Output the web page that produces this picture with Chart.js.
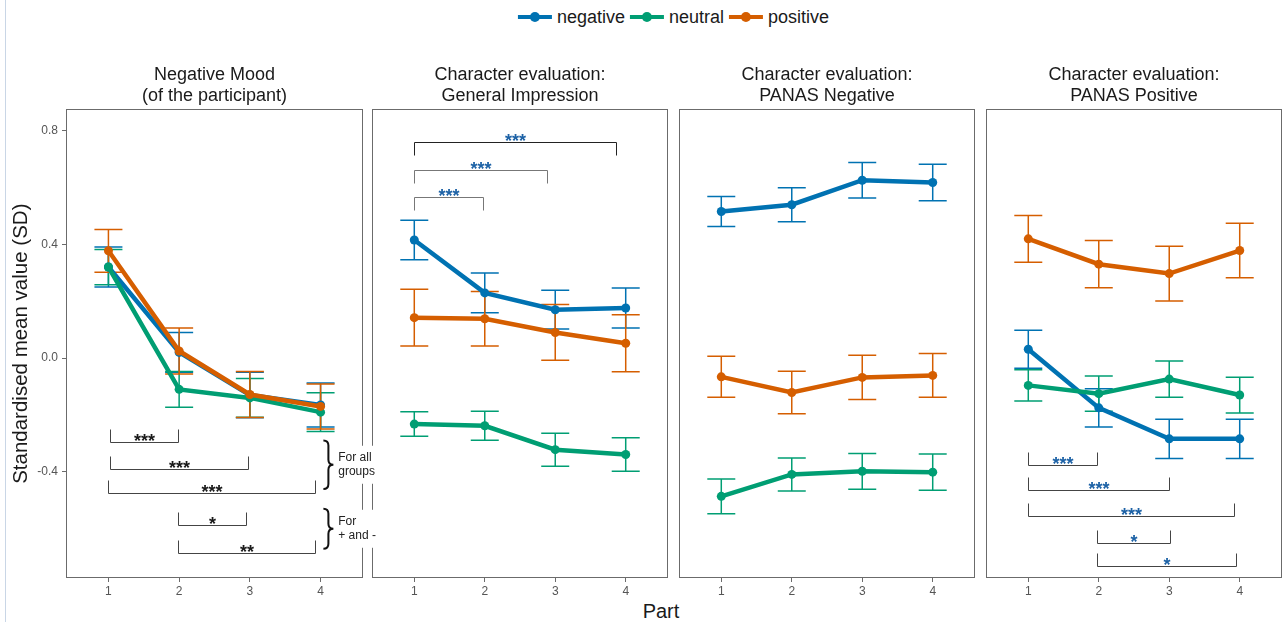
<!DOCTYPE html>
<html>
<head>
<meta charset="UTF-8" />
<title>Mood and character evaluation by part</title>
<script src="https://cdn.jsdelivr.net/npm/chart.js"></script>
<style>
  body { margin: 0; background: #fff; font-family: "Liberation Sans", Arial, sans-serif; }
  #page { position: relative; width: 1288px; height: 622px; overflow: hidden; }
  #page canvas { position: absolute; }
  #edge { position: absolute; left: 5px; top: 0; width: 1px; height: 622px; background: #c9d6e6; }
  #legend { position: absolute; left: 676px; top: 6px; transform: translateX(-50%); white-space: nowrap;
            font-size: 18px; color: #1a1a1a; line-height: 22px; }
  #legend .item { display: inline-block; margin-right: 5px; }
  #legend .swatch { display: inline-block; position: relative; width: 34px; height: 4px; vertical-align: middle;
                    margin-right: 5px; top: -1px; }
  #legend .swatch i { position: absolute; left: 12px; top: -3px; width: 10px; height: 10px; border-radius: 50%; background: inherit; }
  #xtitle { position: absolute; left: 661px; top: 600px; transform: translateX(-50%); font-size: 20px; color: #1a1a1a; }
</style>
</head>
<body>
<div id="page">
  <div id="edge"></div>
  <div id="legend"></div>
  <canvas id="panel1" width="382" height="535" style="left:0;top:65px;z-index:2"></canvas>
  <canvas id="panel2" width="296" height="535" style="left:372px;top:65px"></canvas>
  <canvas id="panel3" width="296" height="535" style="left:679px;top:65px"></canvas>
  <canvas id="panel4" width="296" height="535" style="left:986px;top:65px"></canvas>
  <div id="xtitle">Part</div>
</div>

<script>
  // --- data ---
  const parts = [1, 2, 3, 4];
  const partLabels = ['1', '2', '3', '4'];
  const groups = ['negative', 'neutral', 'positive'];
  const groupColors = ['#0072B2', '#009E73', '#D55E00'];
  const yMin = -0.773;
  const yMax = 0.874;
  const yTicks = [-0.4, 0, 0.4, 0.8];
  const yTickLabels = ['-0.4', '0.0', '0.4', '0.8'];

  const panelTitles = [
    ['Negative Mood', '(of the participant)'],
    ['Character evaluation:', 'General Impression'],
    ['Character evaluation:', 'PANAS Negative'],
    ['Character evaluation:', 'PANAS Positive']
  ];

  // rows: negative, neutral, positive
  const moodMean = [
    [0.32, 0.02, -0.13, -0.165],
    [0.32, -0.11, -0.14, -0.19],
    [0.377, 0.025, -0.128, -0.17]
  ];
  const moodSE = [
    [0.07, 0.07, 0.08, 0.077],
    [0.062, 0.063, 0.068, 0.068],
    [0.075, 0.081, 0.081, 0.079]
  ];

  const impressionMean = [
    [0.415, 0.229, 0.17, 0.176],
    [-0.232, -0.238, -0.322, -0.339],
    [0.142, 0.138, 0.09, 0.052]
  ];
  const impressionSE = [
    [0.069, 0.07, 0.068, 0.07],
    [0.043, 0.051, 0.058, 0.059],
    [0.1, 0.096, 0.098, 0.1]
  ];

  const panasNegMean = [
    [0.515, 0.539, 0.625, 0.617],
    [-0.486, -0.409, -0.398, -0.401],
    [-0.066, -0.121, -0.068, -0.061]
  ];
  const panasNegSE = [
    [0.053, 0.06, 0.062, 0.064],
    [0.061, 0.058, 0.063, 0.064],
    [0.072, 0.075, 0.078, 0.077]
  ];

  const panasPosMean = [
    [0.031, -0.175, -0.284, -0.284],
    [-0.096, -0.125, -0.074, -0.13],
    [0.419, 0.33, 0.297, 0.378]
  ];
  const panasPosSE = [
    [0.067, 0.067, 0.069, 0.069],
    [0.055, 0.062, 0.064, 0.063],
    [0.082, 0.083, 0.096, 0.096]
  ];

  // significance brackets: [from part, to part, level, stars]
  const moodBrackets = [
    [1.02, 1.99, -0.296, '***'],
    [1.02, 2.97, -0.39, '***'],
    [1.0, 3.92, -0.475, '***'],
    [1.99, 2.95, -0.587, '*'],
    [1.99, 3.92, -0.686, '**']
  ];
  const impressionBrackets = [
    [1.0, 1.97, 0.567, '***'],
    [1.0, 2.88, 0.661, '***'],
    [1.0, 3.86, 0.76, '***']
  ];
  const panasPosBrackets = [
    [1.0, 1.98, -0.377, '***'],
    [1.0, 3.0, -0.464, '***'],
    [1.0, 3.92, -0.554, '***'],
    [1.98, 3.01, -0.651, '*'],
    [1.98, 3.95, -0.731, '*']
  ];

  // brace notes next to the mood brackets: [top level, bottom level, text lines]
  const moodNotes = [
    [-0.29, -0.46, ['For all', 'groups']],
    [-0.53, -0.67, ['For', '+ and -']]
  ];

  Chart.defaults.font.family = '"Liberation Sans", Arial, sans-serif';

  // legend
  const legendEl = document.getElementById('legend');
  groups.forEach((g, i) => {
    const item = document.createElement('span');
    item.className = 'item';
    item.innerHTML = '<span class="swatch" style="background:' + groupColors[i] + '"><i></i></span>' + g;
    legendEl.appendChild(item);
  });

  function drawBrace(ctx, x0, y0, y1) {
    const xm = x0 + 5, tip = x0 + 10, mid = (y0 + y1) / 2, r = 5;
    ctx.beginPath();
    ctx.moveTo(x0, y0);
    ctx.quadraticCurveTo(xm, y0, xm, y0 + r);
    ctx.lineTo(xm, mid - r);
    ctx.quadraticCurveTo(xm, mid, tip, mid);
    ctx.quadraticCurveTo(xm, mid, xm, mid + r);
    ctx.lineTo(xm, y1 - r);
    ctx.quadraticCurveTo(xm, y1, x0, y1);
    ctx.stroke();
  }

  function extrasPlugin(cfg) {
    return {
      id: 'facetExtras',
      beforeDatasetsDraw(chart) {
        const { ctx, scales: { x, y } } = chart;
        ctx.save();
        ctx.lineWidth = 1.5;
        cfg.means.forEach((row, i) => {
          ctx.strokeStyle = groupColors[i];
          row.forEach((m, j) => {
            const px = x.getPixelForValue(parts[j]);
            const top = y.getPixelForValue(m + cfg.se[i][j]);
            const bot = y.getPixelForValue(m - cfg.se[i][j]);
            ctx.beginPath();
            ctx.moveTo(px, top); ctx.lineTo(px, bot);
            ctx.moveTo(px - 14, top); ctx.lineTo(px + 14, top);
            ctx.moveTo(px - 14, bot); ctx.lineTo(px + 14, bot);
            ctx.stroke();
          });
        });
        ctx.restore();
      },
      afterDatasetsDraw(chart) {
        const { ctx, chartArea: a, scales: { x, y } } = chart;
        ctx.save();
        // panel border
        ctx.strokeStyle = '#6b6b6b';
        ctx.lineWidth = 1;
        ctx.strokeRect(Math.round(a.left) + 0.5, Math.round(a.top) + 0.5,
                       Math.round(a.width) - 1, Math.round(a.height) - 1);

        // brackets
        (cfg.brackets || []).forEach((b, n) => {
          const [from, to, level, stars] = b;
          const x1 = Math.round(x.getPixelForValue(from)) + 0.5;
          const x2 = Math.round(x.getPixelForValue(to)) + 0.5;
          const py = Math.round(y.getPixelForValue(level)) + 0.5;
          const tip = py + cfg.tickDir * 13;
          ctx.strokeStyle = cfg.lineColors ? cfg.lineColors[n] : '#444';
          ctx.lineWidth = 1;
          ctx.beginPath();
          ctx.moveTo(x1, tip); ctx.lineTo(x1, py); ctx.lineTo(x2, py); ctx.lineTo(x2, tip);
          ctx.stroke();
          ctx.fillStyle = cfg.starColor;
          ctx.font = 'bold 18px "Liberation Sans", Arial, sans-serif';
          ctx.textAlign = 'center';
          ctx.textBaseline = 'alphabetic';
          ctx.fillText(stars, (x1 + x2) / 2, py + 4);
        });

        // brace notes
        (cfg.notes || []).forEach(nt => {
          const [lvlTop, lvlBot, lines] = nt;
          const y0 = y.getPixelForValue(lvlTop), y1 = y.getPixelForValue(lvlBot);
          const bx = x.getPixelForValue(4.04);
          const tx = x.getPixelForValue(4.25);
          const mid = (y0 + y1) / 2;
          ctx.fillStyle = '#fff';
          ctx.fillRect(tx - 3, mid - 19, 45, 38);
          ctx.strokeStyle = '#111';
          ctx.lineWidth = 2;
          drawBrace(ctx, bx, y0, y1);
          ctx.fillStyle = '#222';
          ctx.font = '12px "Liberation Sans", Arial, sans-serif';
          ctx.textAlign = 'left';
          ctx.textBaseline = 'middle';
          lines.forEach((t, k) => {
            ctx.fillText(t, tx, mid - 7 + k * 14);
          });
        });
        ctx.restore();
      }
    };
  }

  function makePanel(id, k, means, se, extras, showY) {
    const datasets = groups.map((g, i) => ({
      label: g,
      data: parts.map((p, j) => ({ x: p, y: means[i][j] })),
      borderColor: groupColors[i],
      backgroundColor: groupColors[i],
      borderWidth: 4.5,
      pointRadius: 4.5,
      pointHoverRadius: 4.5,
      pointBorderWidth: 0,
      tension: 0,
      order: 2 - i
    }));

    return new Chart(document.getElementById(id), {
      type: 'line',
      data: { datasets },
      options: {
        responsive: false,
        animation: false,
        events: [],
        layout: { autoPadding: false, padding: { right: showY ? 19 : 0 } },
        plugins: {
          legend: { display: false },
          tooltip: { enabled: false },
          title: {
            display: true,
            text: panelTitles[k],
            fullSize: false,
            color: '#1a1a1a',
            font: { size: 18, weight: 'normal', lineHeight: 1.15 },
            padding: { top: 0, bottom: 3 }
          }
        },
        scales: {
          x: {
            type: 'linear',
            min: 0.4,
            max: 4.6,
            afterBuildTicks: s => { s.ticks = parts.map(v => ({ value: v })); },
            afterFit: s => { s.height = 22; },
            grid: { drawOnChartArea: false, drawTicks: true, tickLength: 4, color: '#6b6b6b' },
            border: { display: false },
            ticks: {
              color: '#555', font: { size: 12 }, padding: 2,
              autoSkip: false, maxRotation: 0,
              callback: (v, i) => partLabels[i]
            }
          },
          y: {
            type: 'linear',
            min: yMin,
            max: yMax,
            display: showY,
            afterBuildTicks: s => { s.ticks = yTicks.map(v => ({ value: v })); },
            afterFit: s => { if (showY) s.width = 66; },
            grid: { drawOnChartArea: false, drawTicks: true, tickLength: 4, color: '#6b6b6b' },
            border: { display: false },
            ticks: {
              color: '#555', font: { size: 12 }, padding: 4,
              callback: (v, i) => yTickLabels[i]
            },
            title: {
              display: showY,
              text: 'Standardised mean value (SD)',
              color: '#1a1a1a',
              font: { size: 20.5 },
              padding: { top: 9, bottom: 0 }
            }
          }
        }
      },
      plugins: [extrasPlugin(Object.assign({ means, se }, extras))]
    });
  }

  makePanel('panel1', 0, moodMean, moodSE, {
    brackets: moodBrackets, tickDir: -1, starColor: '#1a1a1a', notes: moodNotes
  }, true);
  makePanel('panel2', 1, impressionMean, impressionSE, {
    brackets: impressionBrackets, tickDir: 1, starColor: '#1d62a6',
    lineColors: ['#777', '#777', '#222']
  }, false);
  makePanel('panel3', 2, panasNegMean, panasNegSE, {}, false);
  makePanel('panel4', 3, panasPosMean, panasPosSE, {
    brackets: panasPosBrackets, tickDir: -1, starColor: '#1d62a6'
  }, false);
</script>
</body>
</html>
